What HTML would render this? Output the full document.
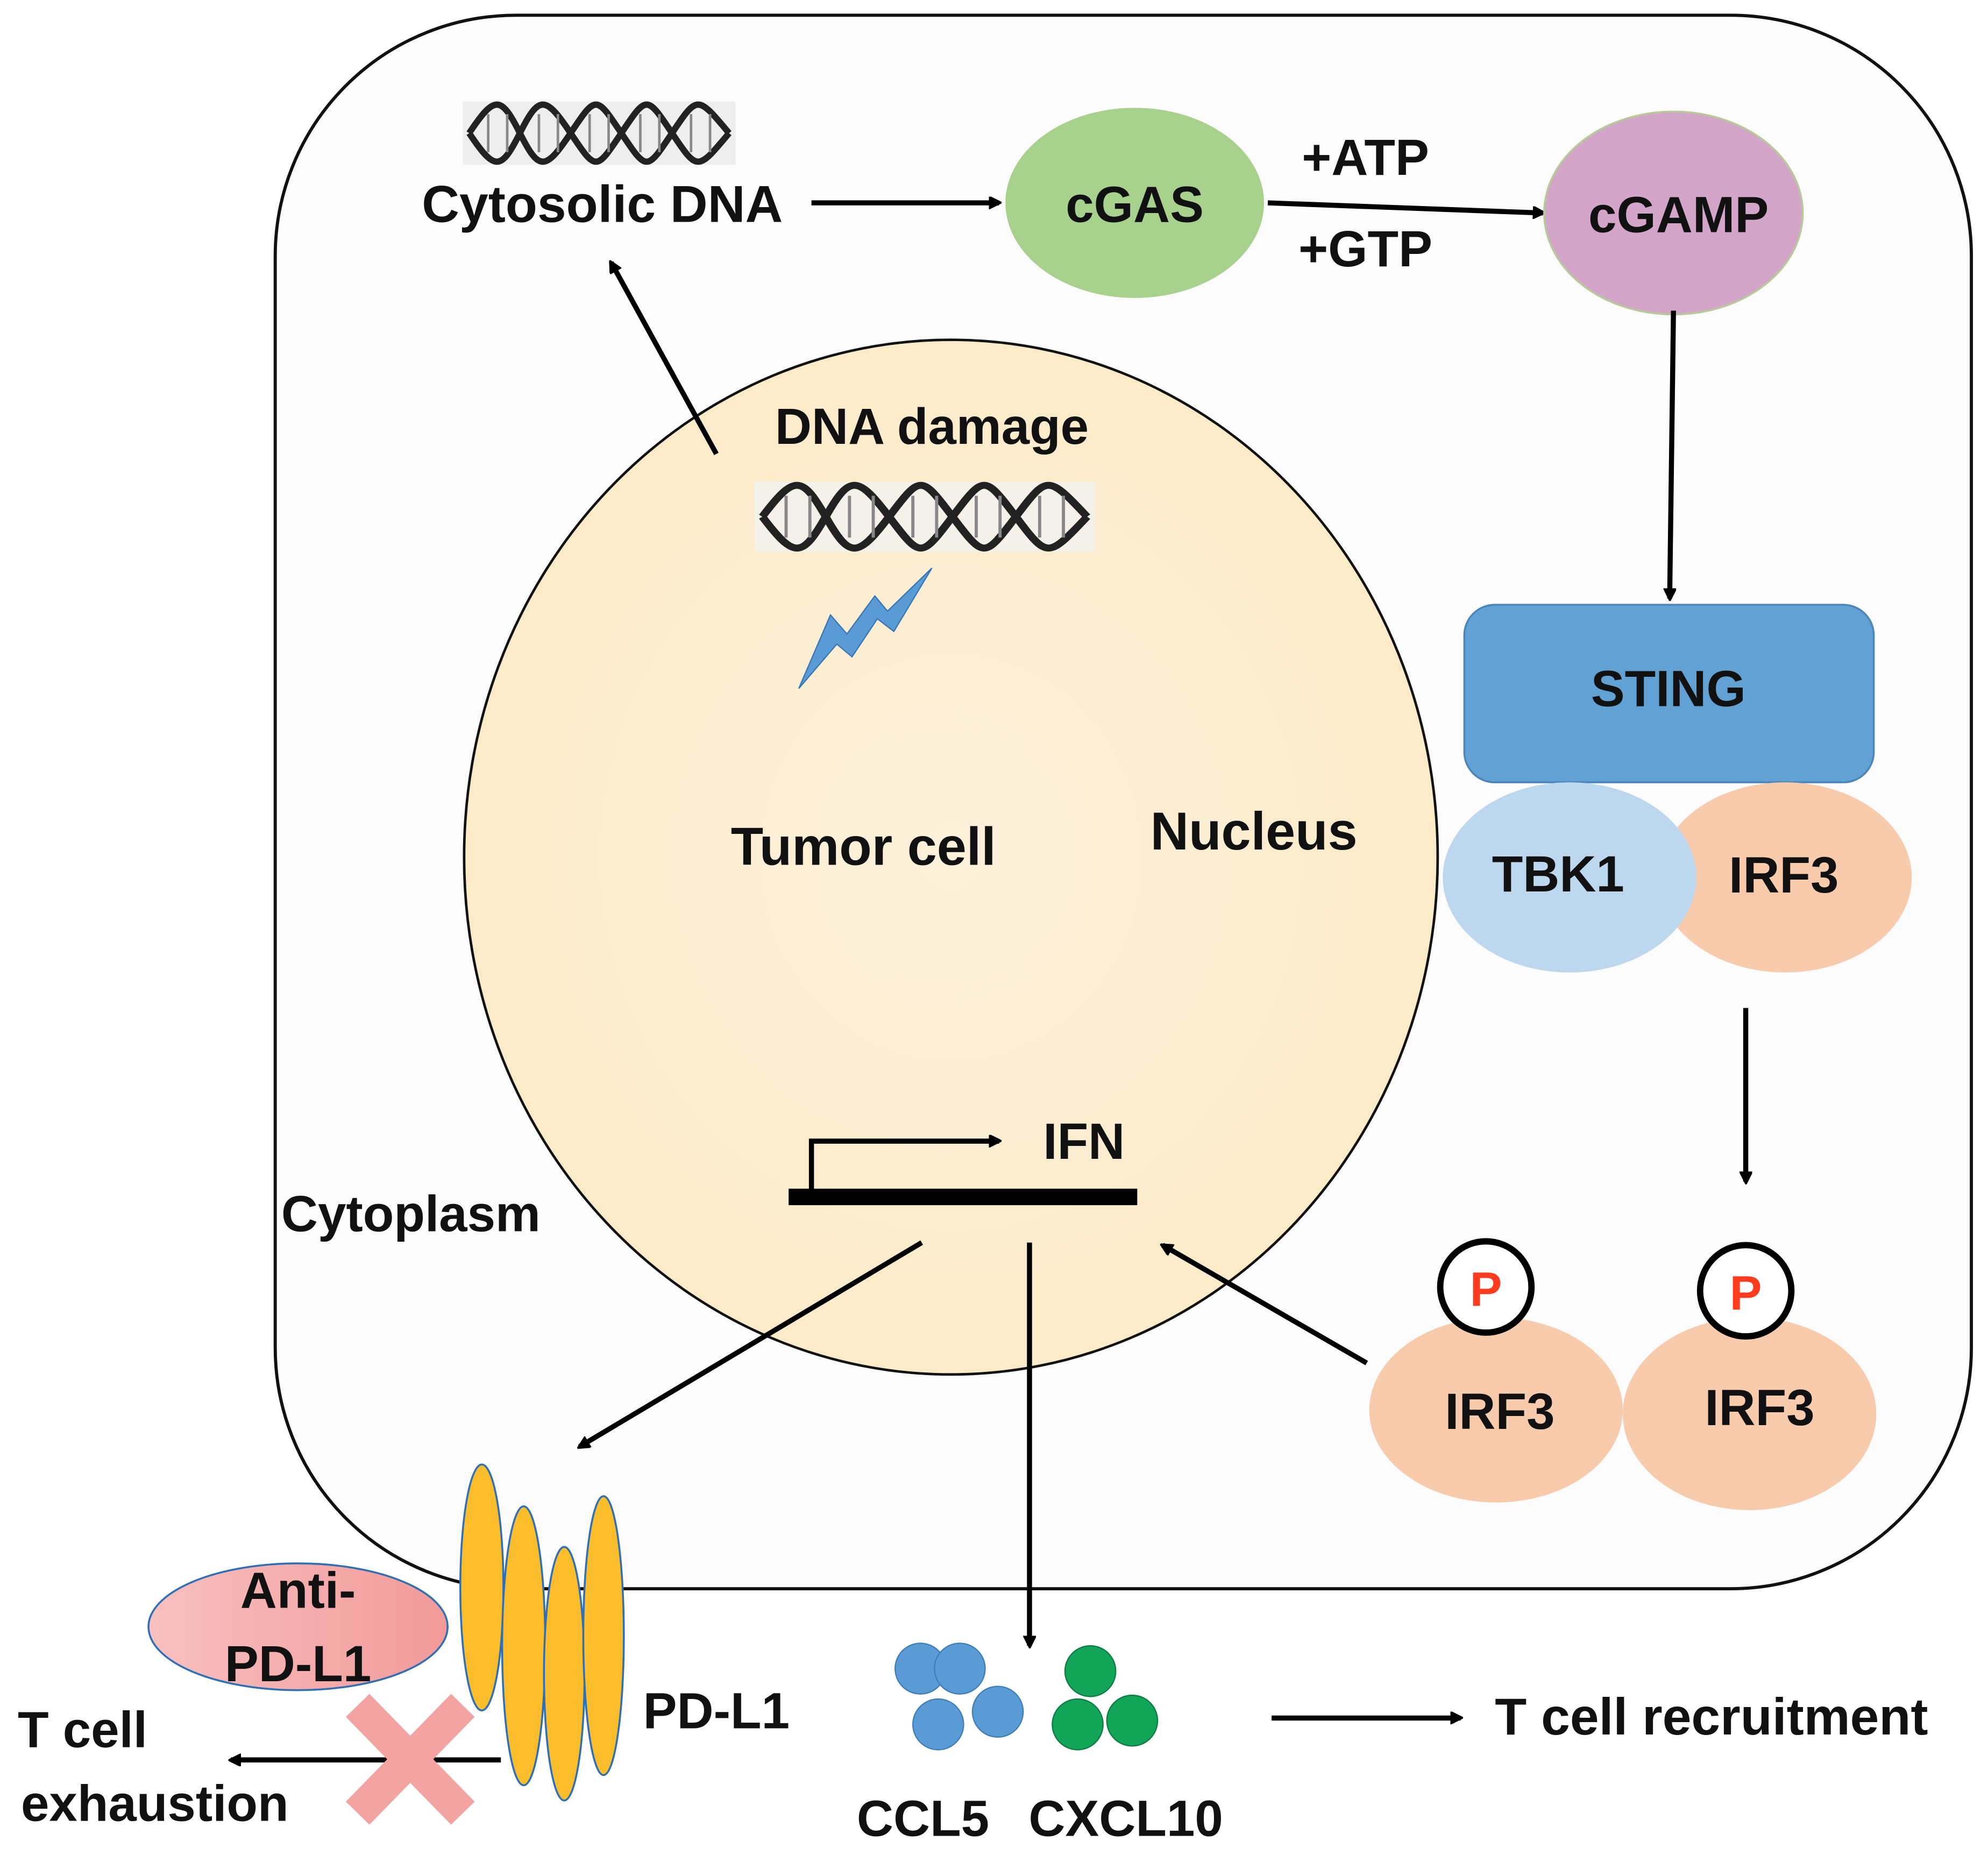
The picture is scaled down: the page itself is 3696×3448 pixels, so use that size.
<!DOCTYPE html>
<html><head><meta charset="utf-8"><style>
html,body{margin:0;padding:0;background:#fff;}
svg{display:block;}
text{font-family:"Liberation Sans","DejaVu Sans",sans-serif;font-weight:bold;fill:#111;}
</style></head><body>
<svg width="3696" height="3448" viewBox="0 0 1568 1463" xmlns="http://www.w3.org/2000/svg">
<defs>
<marker id="ah" markerWidth="10" markerHeight="10" refX="8" refY="5" orient="auto" markerUnits="userSpaceOnUse">
<path d="M0,0 L10,5 L0,10 z" fill="#000" transform="scale(1.6) translate(-3,-2)"/>
</marker>
<radialGradient id="nuc" cx="50%" cy="50%" r="50%"><stop offset="0" stop-color="#fdf1dc"/><stop offset="1" stop-color="#fcebc9"/></radialGradient>
<linearGradient id="anti" x1="0" y1="0" x2="1" y2="0"><stop offset="0" stop-color="#f8c0c0"/><stop offset="1" stop-color="#f29a9a"/></linearGradient>
</defs>
<rect x="217" y="12" width="1338" height="1241" rx="190" ry="190" fill="#fcfcfc" stroke="#111" stroke-width="2.5"/>
<ellipse cx="750" cy="676" rx="384" ry="408" fill="url(#nuc)" stroke="#111" stroke-width="2"/>

<g transform="translate(365,80)">
<rect x="0" y="0" width="215" height="50" fill="#eee"/>
<path d="M5,25 C25,-5 30,-5 45,25 S65,55 85,25 S105,-5 125,25 S145,55 165,25 S185,-5 210,25" fill="none" stroke="#222" stroke-width="5"/>
<path d="M5,25 C25,55 30,55 45,25 S65,-5 85,25 S105,55 125,25 S145,-5 165,25 S185,55 210,25" fill="none" stroke="#222" stroke-width="5"/>
<g stroke="#888" stroke-width="2"><line x1="20" y1="10" x2="20" y2="40"/><line x1="35" y1="10" x2="35" y2="40"/><line x1="60" y1="10" x2="60" y2="40"/><line x1="75" y1="10" x2="75" y2="40"/><line x1="100" y1="10" x2="100" y2="40"/><line x1="115" y1="10" x2="115" y2="40"/><line x1="140" y1="10" x2="140" y2="40"/><line x1="155" y1="10" x2="155" y2="40"/><line x1="180" y1="10" x2="180" y2="40"/><line x1="195" y1="10" x2="195" y2="40"/></g>
</g>
<g transform="translate(595,380) scale(1.25,1.1)">
<rect x="0" y="0" width="215" height="50" fill="#f4f0ea"/>
<path d="M5,25 C25,-5 30,-5 45,25 S65,55 85,25 S105,-5 125,25 S145,55 165,25 S185,-5 210,25" fill="none" stroke="#222" stroke-width="5"/>
<path d="M5,25 C25,55 30,55 45,25 S65,-5 85,25 S105,55 125,25 S145,-5 165,25 S185,55 210,25" fill="none" stroke="#222" stroke-width="5"/>
<g stroke="#888" stroke-width="2"><line x1="20" y1="10" x2="20" y2="40"/><line x1="35" y1="10" x2="35" y2="40"/><line x1="60" y1="10" x2="60" y2="40"/><line x1="75" y1="10" x2="75" y2="40"/><line x1="100" y1="10" x2="100" y2="40"/><line x1="115" y1="10" x2="115" y2="40"/><line x1="140" y1="10" x2="140" y2="40"/><line x1="155" y1="10" x2="155" y2="40"/><line x1="180" y1="10" x2="180" y2="40"/><line x1="195" y1="10" x2="195" y2="40"/></g>
</g>
<path d="M630,543 L655,485 L668,500 L690,470 L700,482 L735,448 L705,498 L692,488 L672,518 L660,508 Z" fill="#5b9bd5" stroke="#3a78b5" stroke-width="1"/>

<text x="475" y="175" font-size="41" text-anchor="middle">Cytosolic DNA</text>
<line x1="640" y1="160" x2="788" y2="160" stroke="#000" stroke-width="4" marker-end="url(#ah)"/>
<ellipse cx="895" cy="160" rx="102" ry="75" fill="#a9d18e"/>
<text x="895" y="175" font-size="40" text-anchor="middle">cGAS</text>
<line x1="1000" y1="160" x2="1217" y2="168" stroke="#000" stroke-width="4" marker-end="url(#ah)"/>
<text x="1077" y="138" font-size="40" text-anchor="middle">+ATP</text>
<text x="1077" y="210" font-size="40" text-anchor="middle">+GTP</text>
<ellipse cx="1320" cy="168" rx="102" ry="80" fill="#d3a5c8" stroke="#b8c99a" stroke-width="1.5"/>
<text x="1324" y="183" font-size="40" text-anchor="middle">cGAMP</text>
<line x1="1320" y1="245" x2="1317" y2="472" stroke="#000" stroke-width="4" marker-end="url(#ah)"/>
<rect x="1155" y="477" width="323" height="140" rx="24" fill="#62a1d3" stroke="#4a86bb" stroke-width="1.5"/>
<text x="1316" y="557" font-size="40" text-anchor="middle">STING</text>
<ellipse cx="1408" cy="692" rx="100" ry="75" fill="#f8cbad"/>
<ellipse cx="1238" cy="692" rx="100" ry="75" fill="#bdd7ee"/>
<text x="1229" y="703" font-size="40" text-anchor="middle">TBK1</text>
<text x="1407" y="704" font-size="40" text-anchor="middle">IRF3</text>
<line x1="1377" y1="795" x2="1377" y2="932" stroke="#000" stroke-width="4" marker-end="url(#ah)"/>

<ellipse cx="1380" cy="1115" rx="100" ry="76" fill="#f8cbad"/>
<ellipse cx="1180" cy="1112" rx="100" ry="73" fill="#f8cbad"/>
<circle cx="1172" cy="1015" r="36" fill="#fff" stroke="#000" stroke-width="5"/>
<circle cx="1377" cy="1018" r="36" fill="#fff" stroke="#000" stroke-width="5"/>
<text x="1172" y="1030" font-size="38" text-anchor="middle" style="fill:#ff3b1f">P</text>
<text x="1377" y="1033" font-size="38" text-anchor="middle" style="fill:#ff3b1f">P</text>
<text x="1183" y="1127" font-size="40" text-anchor="middle">IRF3</text>
<text x="1388" y="1124" font-size="40" text-anchor="middle">IRF3</text>
<line x1="1078" y1="1075" x2="917" y2="982" stroke="#000" stroke-width="4" marker-end="url(#ah)"/>

<text x="735" y="350" font-size="40" text-anchor="middle">DNA damage</text>
<line x1="565" y1="358" x2="482" y2="207" stroke="#000" stroke-width="4" marker-end="url(#ah)"/>
<text x="681" y="682" font-size="42" text-anchor="middle">Tumor cell</text>
<text x="989" y="670" font-size="42" text-anchor="middle">Nucleus</text>
<text x="855" y="914" font-size="40" text-anchor="middle">IFN</text>
<line x1="622" y1="944" x2="897" y2="944" stroke="#000" stroke-width="13"/>
<polyline points="640,940 640,900 788,900" fill="none" stroke="#000" stroke-width="4" marker-end="url(#ah)"/>
<text x="324" y="971" font-size="40" text-anchor="middle">Cytoplasm</text>
<line x1="727" y1="980" x2="457" y2="1141" stroke="#000" stroke-width="4" marker-end="url(#ah)"/>
<line x1="812" y1="980" x2="812" y2="1298" stroke="#000" stroke-width="4" marker-end="url(#ah)"/>

<ellipse cx="380" cy="1252" rx="17" ry="97" fill="#fbbd2c" stroke="#2f6fb5" stroke-width="1.5"/>
<ellipse cx="413" cy="1298" rx="17" ry="110" fill="#fbbd2c" stroke="#2f6fb5" stroke-width="1.5"/>
<ellipse cx="445" cy="1320" rx="16" ry="100" fill="#fbbd2c" stroke="#2f6fb5" stroke-width="1.5"/>
<ellipse cx="476" cy="1290" rx="16" ry="110" fill="#fbbd2c" stroke="#2f6fb5" stroke-width="1.5"/>
<ellipse cx="235" cy="1283" rx="118" ry="50" fill="url(#anti)" stroke="#2f6fb5" stroke-width="1.5"/>
<text x="235" y="1268" font-size="40" text-anchor="middle">Anti-</text>
<text x="235" y="1326" font-size="40" text-anchor="middle">PD-L1</text>
<line x1="395" y1="1388" x2="182" y2="1388" stroke="#000" stroke-width="4" marker-end="url(#ah)"/>
<g stroke="#f4a3a3" stroke-width="26">
<line x1="282" y1="1345" x2="365" y2="1430"/><line x1="365" y1="1345" x2="282" y2="1430"/>
</g>
<text x="65" y="1378" font-size="40" text-anchor="middle">T cell</text>
<text x="122" y="1436" font-size="40" text-anchor="middle">exhaustion</text>
<text x="565" y="1363" font-size="40" text-anchor="middle">PD-L1</text>

<g fill="#5b9bd5" stroke="#3f7fb8" stroke-width="1">
<circle cx="726" cy="1316" r="20"/><circle cx="757" cy="1316" r="20"/><circle cx="787" cy="1350" r="20"/><circle cx="740" cy="1360" r="20"/>
</g>
<g fill="#12a55a" stroke="#0b7d40" stroke-width="1">
<circle cx="860" cy="1318" r="20"/><circle cx="850" cy="1360" r="20"/><circle cx="893" cy="1357" r="20"/>
</g>
<text x="728" y="1448" font-size="40" text-anchor="middle">CCL5</text>
<text x="888" y="1448" font-size="40" text-anchor="middle">CXCL10</text>
<line x1="1003" y1="1355" x2="1152" y2="1355" stroke="#000" stroke-width="4" marker-end="url(#ah)"/>
<text x="1350" y="1368" font-size="41" text-anchor="middle">T cell recruitment</text>
</svg>
</body></html>
